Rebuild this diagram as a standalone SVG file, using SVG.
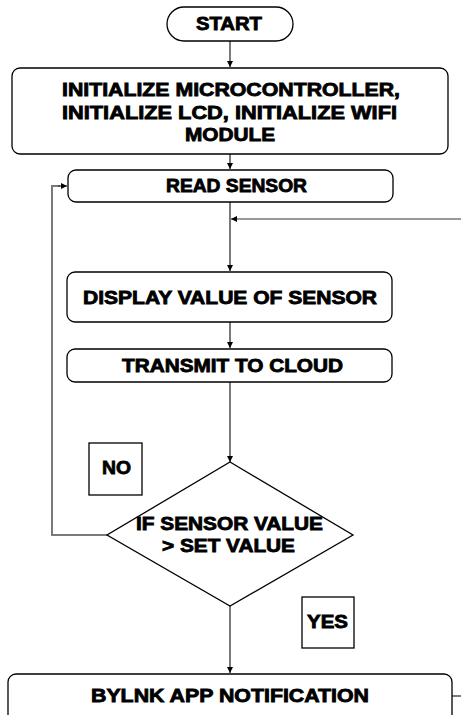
<svg xmlns="http://www.w3.org/2000/svg" width="461" height="715" viewBox="0 0 461 715">
  <style>
    .box { fill: #ffffff; stroke: #000000; stroke-width: 1.3; }
    .lbl { font-family: "Liberation Sans", Arial, sans-serif; font-weight: bold; font-size: 18px; fill: #000000; stroke: #000000; stroke-width: 0.8; text-anchor: middle; }
    .wire { fill: none; stroke: #7a7a7a; stroke-width: 2; }
    .thin { fill: none; stroke: #333333; stroke-width: 1.2; }
  </style>
  <defs>
    <marker id="arrow" viewBox="0 0 10 10" refX="10" refY="5" markerWidth="6" markerHeight="6" markerUnits="userSpaceOnUse" orient="auto">
      <path d="M0,0 L10,5 L0,10 z" fill="#000000"/>
    </marker>
  </defs>

  <rect width="461" height="715" fill="#ffffff"/>

  <!-- connectors -->
  <g id="connectors">
    <line class="wire" x1="230" y1="41" x2="230" y2="67" marker-end="url(#arrow)"/>
    <line class="wire" x1="230" y1="154" x2="230" y2="169" marker-end="url(#arrow)"/>
    <line class="wire" x1="230" y1="202" x2="230" y2="271" marker-end="url(#arrow)"/>
    <line class="thin" x1="461" y1="219" x2="231" y2="219" marker-end="url(#arrow)"/>
    <line class="wire" x1="230" y1="322" x2="230" y2="348" marker-end="url(#arrow)"/>
    <line class="wire" x1="230" y1="382" x2="230" y2="462" marker-end="url(#arrow)"/>
    <polyline class="wire" points="107,535 52,535 52,186 60,186"/>
    <line class="thin" x1="58" y1="186" x2="67" y2="186" marker-end="url(#arrow)"/>
    <line class="wire" x1="230" y1="606" x2="230" y2="673" marker-end="url(#arrow)"/>
    <line class="wire" x1="452" y1="696" x2="461" y2="696"/>
  </g>

  <g id="start">
    <rect class="box" x="167" y="7" width="126" height="34" rx="17" ry="17"/>
    <text class="lbl" x="229" y="29.5" textLength="66" lengthAdjust="spacingAndGlyphs">START</text>
  </g>

  <g id="init">
    <rect class="box" x="12" y="68" width="436" height="86" rx="8" ry="8"/>
    <text class="lbl" x="231" y="96" textLength="338" lengthAdjust="spacingAndGlyphs">INITIALIZE MICROCONTROLLER,</text>
    <text class="lbl" x="229.5" y="118.5" textLength="335" lengthAdjust="spacingAndGlyphs">INITIALIZE LCD, INITIALIZE WIFI</text>
    <text class="lbl" x="230" y="141" textLength="90" lengthAdjust="spacingAndGlyphs">MODULE</text>
  </g>

  <g id="read-sensor">
    <rect class="box" x="68" y="170" width="325" height="32" rx="8" ry="8"/>
    <text class="lbl" x="236.5" y="192" textLength="141" lengthAdjust="spacingAndGlyphs">READ SENSOR</text>
  </g>

  <g id="display">
    <rect class="box" x="67" y="272" width="325" height="50" rx="8" ry="8"/>
    <text class="lbl" x="230" y="303.5" textLength="294" lengthAdjust="spacingAndGlyphs">DISPLAY VALUE OF SENSOR</text>
  </g>

  <g id="transmit">
    <rect class="box" x="67" y="349" width="325" height="33" rx="8" ry="8"/>
    <text class="lbl" x="232.5" y="372" textLength="221" lengthAdjust="spacingAndGlyphs">TRANSMIT TO CLOUD</text>
  </g>

  <g id="decision">
    <polygon class="box" points="230,462 353,535 230,606 107,535"/>
    <text class="lbl" x="229.5" y="530" textLength="187" lengthAdjust="spacingAndGlyphs">IF SENSOR VALUE</text>
    <text class="lbl" x="228.5" y="552" textLength="133" lengthAdjust="spacingAndGlyphs">&gt; SET VALUE</text>
  </g>

  <g id="no-label">
    <rect class="box" x="89" y="443" width="53" height="52"/>
    <text class="lbl" x="116.5" y="474" textLength="29" lengthAdjust="spacingAndGlyphs">NO</text>
  </g>

  <g id="yes-label">
    <rect class="box" x="302" y="597" width="52" height="51"/>
    <text class="lbl" x="327.5" y="628" textLength="41" lengthAdjust="spacingAndGlyphs">YES</text>
  </g>

  <g id="notification">
    <rect class="box" x="8" y="674" width="444" height="60" rx="8" ry="8"/>
    <text class="lbl" x="230" y="702" textLength="278" lengthAdjust="spacingAndGlyphs">BYLNK APP NOTIFICATION</text>
  </g>
</svg>
